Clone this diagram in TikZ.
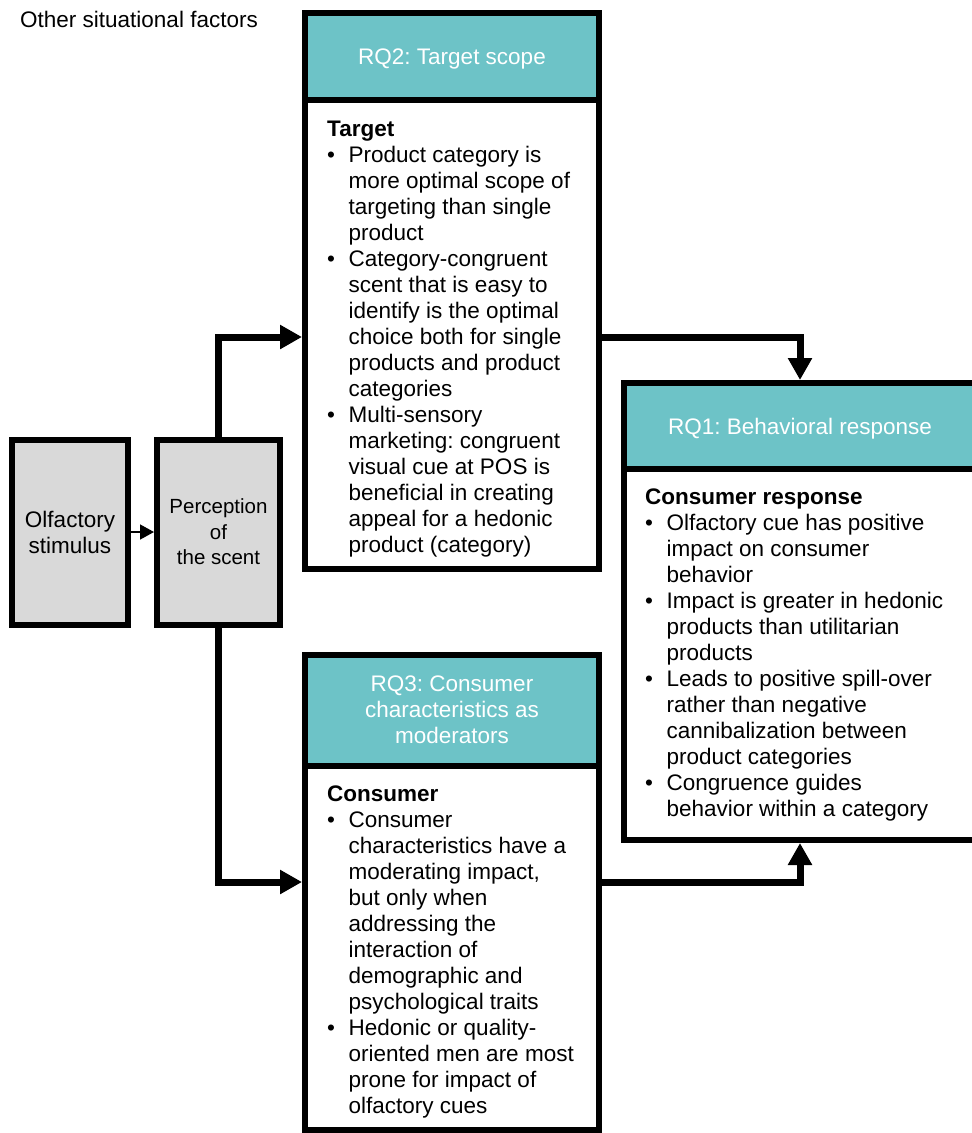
\documentclass[tikz,border=0pt]{standalone}
\usepackage{fontspec}
\setmainfont{Liberation Sans}
\usetikzlibrary{arrows.meta}
\definecolor{hdr}{HTML}{6DC3C7}
\definecolor{boxgray}{HTML}{D9D9D9}
\newcommand\BulLine[1]{\hbox{\makebox[21.5pt][l]{\textbullet}#1}}
\newcommand\ContLine[1]{\hbox{\hspace*{21.5pt}#1}}
\newcommand\HeadLine[1]{\hbox{\bfseries #1}}
\newcommand\TextStack[1]{\vtop{\baselineskip=26pt\lineskiplimit=-30pt\lineskip=0pt #1}}
\frenchspacing
\begin{document}
\frenchspacing
\begin{tikzpicture}[x=1pt,y=-1pt,
  txt/.style={font=\fontsize{22.5}{26}\selectfont},
  frame/.style={draw=black, line width=6pt, rectangle, inner sep=0pt},
  hdrbox/.style={frame, fill=hdr, text=white, align=center, txt},
  hdrtxt/.style={anchor=base, inner sep=0pt, text=white, txt},
  bodybox/.style={frame, fill=white},
  graybox/.style={frame, fill=boxgray, align=center},
  bodytxt/.style={anchor=base west, inner sep=0pt, txt},
  arr/.style={line width=7pt, -{Triangle[length=22pt,width=23pt]}},
  thinarr/.style={line width=1.5pt, -{Triangle[length=14pt,width=15pt]}}]
\useasboundingbox (0,0) rectangle (972,1133);

\node[anchor=base west, inner sep=0pt, txt] (other) at (20,27) {Other situational factors};

% left boxes
\node[graybox, txt, minimum width=116pt, minimum height=185pt] (olf) at (70,532) {Olfactory\\stimulus};
\node[graybox, font=\fontsize{20.5}{25.5}\selectfont, minimum width=123pt, minimum height=185pt] (perc) at (218.5,532) {Perception\\of\\the scent};

% RQ2
\node[bodybox, minimum width=294pt, minimum height=469pt] (rq2b) at (452,334.5) {};
\node[hdrbox, minimum width=294pt, minimum height=87pt] (rq2h) at (452,56.5) {};
\node[hdrtxt] (rq2t) at (452,64.5) {RQ2: Target scope};

% RQ3
\node[bodybox, minimum width=294pt, minimum height=365pt] (rq3b) at (452,947.5) {};
\node[hdrbox, minimum width=294pt, minimum height=111pt] (rq3h) at (452,710) {RQ3: Consumer\\characteristics as\\moderators};

% RQ1
\node[bodybox, minimum width=352pt, minimum height=371pt] (rq1b) at (800,654.5) {};
\node[hdrbox, minimum width=352pt, minimum height=86pt] (rq1h) at (800,426) {};
\node[hdrtxt] (rq1t) at (800,434.5) {RQ1: Behavioral response};

% body texts
\node[bodytxt] (t2) at (327,136) {\TextStack{%
\HeadLine{Target}
\BulLine{Product category is}
\ContLine{more optimal scope of}
\ContLine{targeting than single}
\ContLine{product}
\BulLine{Category-congruent}
\ContLine{scent that is easy to}
\ContLine{identify is the optimal}
\ContLine{choice both for single}
\ContLine{products and product}
\ContLine{categories}
\BulLine{Multi-sensory}
\ContLine{marketing: congruent}
\ContLine{visual cue at POS is}
\ContLine{beneficial in creating}
\ContLine{appeal for a hedonic}
\ContLine{product (category)}}};

\node[bodytxt] (t1) at (645,504) {\TextStack{%
\HeadLine{Consumer response}
\BulLine{Olfactory cue has positive}
\ContLine{impact on consumer}
\ContLine{behavior}
\BulLine{Impact is greater in hedonic}
\ContLine{products than utilitarian}
\ContLine{products}
\BulLine{Leads to positive spill-over}
\ContLine{rather than negative}
\ContLine{cannibalization between}
\ContLine{product categories}
\BulLine{Congruence guides}
\ContLine{behavior within a category}}};

\node[bodytxt] (t3) at (327,801) {\TextStack{%
\HeadLine{Consumer}
\BulLine{Consumer}
\ContLine{characteristics have a}
\ContLine{moderating impact,}
\ContLine{but only when}
\ContLine{addressing the}
\ContLine{interaction of}
\ContLine{demographic and}
\ContLine{psychological traits}
\BulLine{Hedonic or quality-}
\ContLine{oriented men are most}
\ContLine{prone for impact of}
\ContLine{olfactory cues}}};

% connectors
\coordinate (yu) at (0,337);
\coordinate (yd) at (0,882);
\draw[thinarr] (olf.east) -- (perc.west);
\draw[arr] (perc.north) |- (rq2b.west |- yu);
\draw[arr] (rq2b.east |- yu) -| (rq1h.north);
\draw[arr] (perc.south) |- (rq3b.west |- yd);
\draw[arr] (rq3b.east |- yd) -| (rq1b.south);
\end{tikzpicture}
\end{document}
